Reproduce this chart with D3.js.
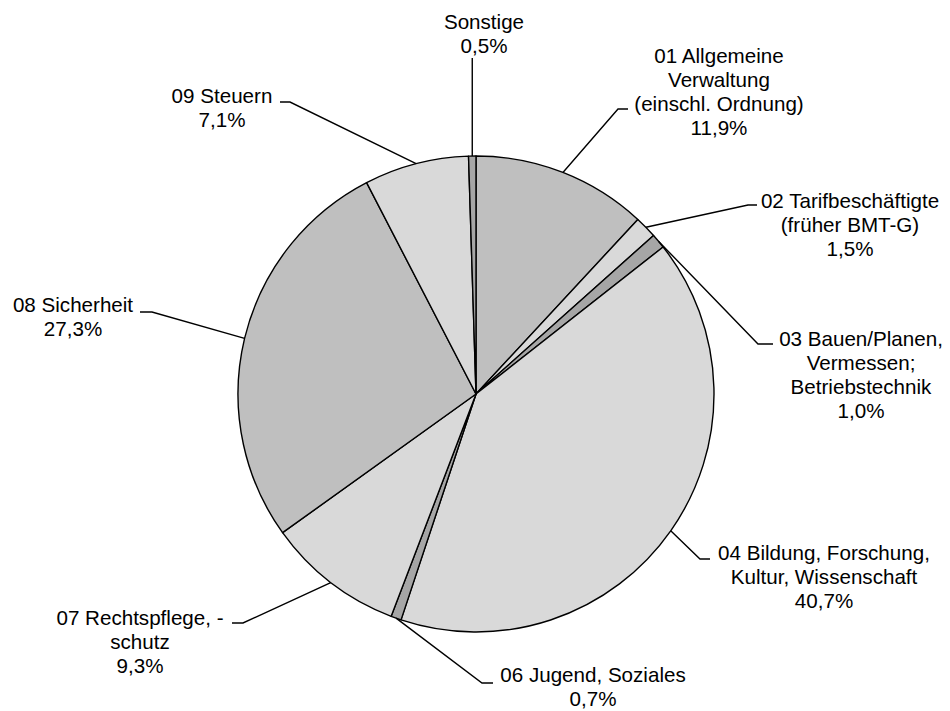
<!DOCTYPE html>
<html>
<head>
<meta charset="utf-8">
<script src="https://cdn.jsdelivr.net/npm/d3@7"></script>
<style>
  body { margin: 0; background: #fff; }
  text { font-family: "Liberation Sans", Arial, sans-serif; font-size: 20.6px; fill: #000; }
</style>
</head>
<body>
<div id="chart"></div>
<script>
// Anteile je Aufgabenbereich (im Uhrzeigersinn ab 12 Uhr)
const categories = ["01", "02", "03", "04", "06", "07", "08", "09", "Sonstige"];
const labelLines = [
  ["01 Allgemeine", "Verwaltung", "(einschl. Ordnung)"],
  ["02 Tarifbeschäftigte", "(früher BMT-G)"],
  ["03 Bauen/Planen,", "Vermessen;", "Betriebstechnik"],
  ["04 Bildung, Forschung,", "Kultur, Wissenschaft"],
  ["06 Jugend, Soziales"],
  ["07 Rechtspflege, -", "schutz"],
  ["08 Sicherheit"],
  ["09 Steuern"],
  ["Sonstige"]
];
const shares = [11.9, 1.5, 1.0, 40.7, 0.7, 9.3, 27.3, 7.1, 0.5];
const fills = ["#bfbfbf", "#d9d9d9", "#a6a6a6", "#d9d9d9", "#a6a6a6", "#d9d9d9", "#bfbfbf", "#d9d9d9", "#a6a6a6"];

// label placement: text centre x, first baseline y, elbow of leader, end of the short horizontal piece
const labelPos = [
  {tx: 719, ty: 63,  ex: 618, ey: 109, hx: 628},
  {tx: 850, ty: 208, ex: 748, ey: 205, hx: 757},
  {tx: 861, ty: 346, ex: 758, ey: 344, hx: 773},
  {tx: 824, ty: 560, ex: 700, ey: 559, hx: 710},
  {tx: 593, ty: 682, ex: 482, ey: 683, hx: 493},
  {tx: 140, ty: 625, ex: 243, ey: 623, hx: 232},
  {tx: 73,  ty: 312, ex: 152, ey: 312, hx: 140},
  {tx: 222, ty: 103, ex: 290, ey: 102, hx: 280},
  {tx: 484, ty: 29,  ex: null, ey: 58, hx: null}
];

var width = 950, height = 711;
var cx = 476, cy = 394, r = 238;
var lineH = 24;

var de = d3.formatLocale({decimal: ",", thousands: ".", grouping: [3], currency: ["", " €"]});
var fmt = de.format(".1f");

var data = categories.map(function(c, i) {
  return {key: c, value: shares[i], lines: labelLines[i], fill: fills[i], pos: labelPos[i]};
});

var svg = d3.select("#chart")
  .append("svg")
  .attr("width", width)
  .attr("height", height);

var g = svg.append("g")
  .attr("transform", "translate(" + cx + "," + cy + ")");

var pie = d3.pie()
  .sort(null)
  .value(function(d) { return d.value; });

var arcs = pie(data);

var arc = d3.arc()
  .innerRadius(0)
  .outerRadius(r);

g.selectAll("path.slice")
  .data(arcs)
  .enter().append("path")
  .attr("class", "slice")
  .attr("d", arc)
  .attr("fill", function(d) { return d.data.fill; })
  .attr("stroke", "#000")
  .attr("stroke-width", 1.4)
  .attr("stroke-linejoin", "round");

// leader lines start at the middle of each slice's outer edge
function edgePoint(d) {
  var a = (d.startAngle + d.endAngle) / 2;
  return [cx + r * Math.sin(a), cy - r * Math.cos(a)];
}

svg.selectAll("path.leader")
  .data(arcs)
  .enter().append("path")
  .attr("class", "leader")
  .attr("fill", "none")
  .attr("stroke", "#000")
  .attr("stroke-width", 1.4)
  .attr("d", function(d) {
    var p = edgePoint(d), pos = d.data.pos;
    if (pos.ex === null) {
      return d3.line()([p, [p[0], pos.ey]]);
    }
    return d3.line()([p, [pos.ex, pos.ey], [pos.hx, pos.ey]]);
  });

var labels = svg.selectAll("text.lbl")
  .data(arcs)
  .enter().append("text")
  .attr("class", "lbl")
  .attr("text-anchor", "middle")
  .attr("x", function(d) { return d.data.pos.tx; })
  .attr("y", function(d) { return d.data.pos.ty; });

labels.each(function(d) {
  var t = d3.select(this);
  var lines = d.data.lines.concat([fmt(d.data.value) + "%"]);
  lines.forEach(function(l, i) {
    t.append("tspan")
      .attr("x", d.data.pos.tx)
      .attr("y", d.data.pos.ty + i * lineH)
      .text(l);
  });
});
</script>
</body>
</html>
